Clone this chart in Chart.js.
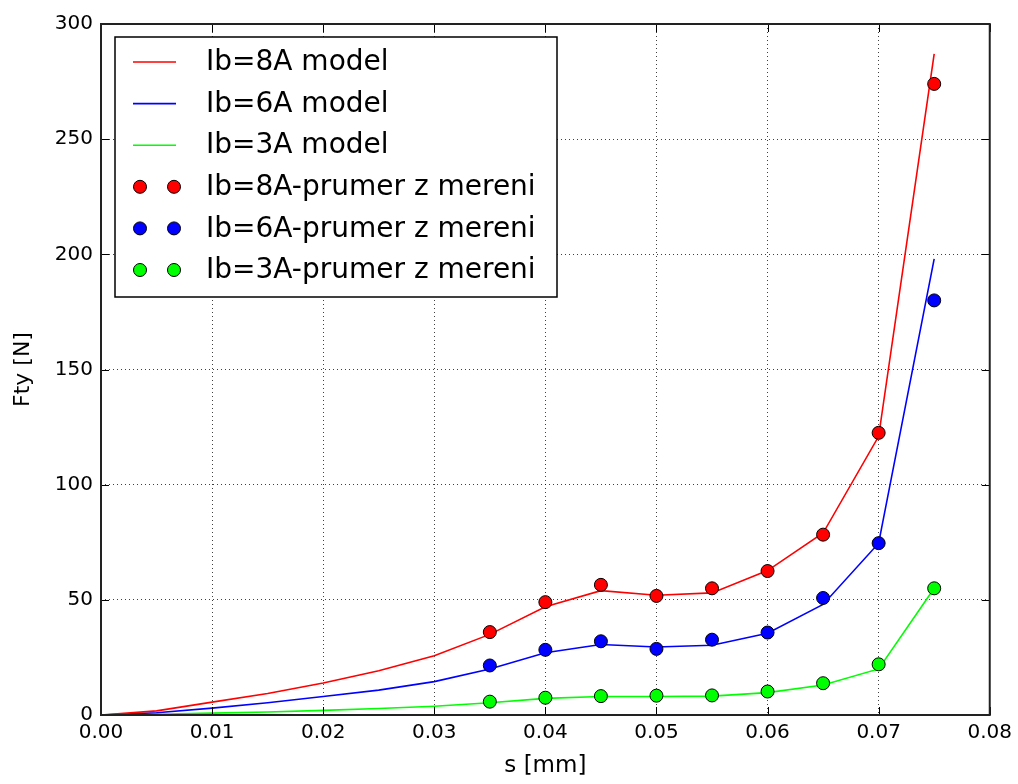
<!DOCTYPE html>
<html>
<head>
<meta charset="utf-8">
<script src="https://cdn.jsdelivr.net/npm/chart.js@4"></script>
<style>
  html, body { margin: 0; padding: 0; background: #fff; }
  #wrap { width: 1018px; height: 784px; }
</style>
</head>
<body>
<div id="wrap"><canvas id="chart" width="1018" height="784"></canvas></div>
<script>
// hodnoty
const sModel = [0, 0.005, 0.01, 0.015, 0.02, 0.025, 0.03, 0.035, 0.04, 0.045, 0.05, 0.055, 0.06, 0.065, 0.07, 0.075];
const model8A = [0, 1.8, 5.6, 9.3, 13.9, 19.2, 25.7, 35, 47, 54, 52, 53, 62.7, 79, 121, 287];
const model6A = [0, 1, 3, 5.3, 8, 10.8, 14.5, 20, 27, 30.6, 29.5, 30.3, 35.5, 48, 74.6, 198];
const model3A = [0, 0.3, 0.8, 1.3, 2, 2.8, 3.8, 5.3, 7.2, 8, 8, 8.2, 9.7, 13, 20, 55];

const sMereni = [0.035, 0.04, 0.045, 0.05, 0.055, 0.06, 0.065, 0.07, 0.075];
const mereni8A = [36, 49, 56.5, 51.7, 55, 62.5, 78.3, 122.5, 274];
const mereni6A = [21.5, 28.3, 32, 28.7, 32.7, 35.8, 50.8, 74.6, 180];
const mereni3A = [5.8, 7.5, 8.2, 8.4, 8.5, 10.2, 13.8, 22, 55];

const xTicks = [0, 0.01, 0.02, 0.03, 0.04, 0.05, 0.06, 0.07, 0.08];
const yTicks = [0, 50, 100, 150, 200, 250, 300];

const FONT = "'DejaVu Sans', sans-serif";

function toPoints(xs, ys) {
    return xs.map((x, i) => ({ x: x, y: ys[i] }));
}

function lineSet(label, ys, color) {
    return {
        label: label, data: toPoints(sModel, ys), showLine: true,
        borderColor: color, backgroundColor: color, borderWidth: 1.6,
        pointRadius: 0, tension: 0, order: 2, kind: 'line'
    };
}

function dotSet(label, ys, color) {
    return {
        label: label, data: toPoints(sMereni, ys), showLine: false,
        backgroundColor: color, borderColor: '#000', borderWidth: 1,
        pointRadius: 6.5, order: 1, kind: 'dot'
    };
}

const datasets = [
    lineSet('Ib=8A model', model8A, '#ff0000'),
    lineSet('Ib=6A model', model6A, '#0000ff'),
    lineSet('Ib=3A model', model3A, '#00ff00'),
    dotSet('Ib=8A-prumer z mereni', mereni8A, '#ff0000'),
    dotSet('Ib=6A-prumer z mereni', mereni6A, '#0000ff'),
    dotSet('Ib=3A-prumer z mereni', mereni3A, '#00ff00')
];

// ramecek, vnitrni ticky a legenda ve stylu matplotlib
const framePlugin = {
    id: 'frame',
    afterDraw(chart) {
        const ctx = chart.ctx;
        const a = chart.chartArea;
        const xs = chart.scales.x, ys = chart.scales.y;
        ctx.save();
        ctx.strokeStyle = '#000';
        ctx.lineWidth = 1;
        ctx.beginPath();
        xTicks.forEach(v => {
            const px = Math.round(xs.getPixelForValue(v)) + 0.5;
            ctx.moveTo(px, a.bottom); ctx.lineTo(px, a.bottom - 8);
            ctx.moveTo(px, a.top); ctx.lineTo(px, a.top + 8);
        });
        yTicks.forEach(v => {
            const py = Math.round(ys.getPixelForValue(v)) + 0.5;
            ctx.moveTo(a.left, py); ctx.lineTo(a.left + 8, py);
            ctx.moveTo(a.right, py); ctx.lineTo(a.right - 8, py);
        });
        ctx.stroke();
        ctx.lineWidth = 2;
        ctx.strokeStyle = '#222';
        ctx.strokeRect(a.left, a.top, a.right - a.left, a.bottom - a.top);

        // legenda
        const lx = 115, ly = 37, lw = 442, lh = 260;
        ctx.fillStyle = '#fff';
        ctx.fillRect(lx, ly, lw, lh);
        ctx.lineWidth = 1.5;
        ctx.strokeStyle = '#000';
        ctx.strokeRect(lx, ly, lw, lh);
        ctx.font = '28px ' + FONT;
        ctx.textBaseline = 'middle';
        chart.data.datasets.forEach((ds, i) => {
            const y = 62 + i * 41.6;
            if (ds.kind === 'line') {
                ctx.strokeStyle = ds.borderColor;
                ctx.lineWidth = 1.6;
                ctx.beginPath();
                ctx.moveTo(133, y); ctx.lineTo(176, y);
                ctx.stroke();
            } else {
                [140, 174].forEach(cx => {
                    ctx.beginPath();
                    ctx.arc(cx, y, 6.5, 0, Math.PI * 2);
                    ctx.fillStyle = ds.backgroundColor;
                    ctx.fill();
                    ctx.lineWidth = 1;
                    ctx.strokeStyle = '#000';
                    ctx.stroke();
                });
            }
            ctx.fillStyle = '#000';
            ctx.fillText(ds.label, 206, y + 1);
        });
        ctx.restore();
    }
};

new Chart(document.getElementById('chart'), {
    type: 'scatter',
    data: { datasets: datasets },
    plugins: [framePlugin],
    options: {
        responsive: false,
        animation: false,
        layout: { padding: { top: 24, right: 28, left: 0, bottom: 0 } },
        plugins: {
            legend: { display: false },
            tooltip: { enabled: false }
        },
        scales: {
            x: {
                type: 'linear', min: 0, max: 0.08,
                afterBuildTicks: s => { s.ticks = xTicks.map(v => ({ value: v })); },
                afterFit: s => { s.height = 69; },
                ticks: {
                    color: '#000', font: { family: FONT, size: 20 }, padding: 6,
                    maxRotation: 0, callback: v => v.toFixed(2)
                },
                grid: { color: 'rgba(0,0,0,0.75)', lineWidth: 1, drawTicks: false },
                border: { display: false, dash: [1, 3] },
                title: { display: true, text: 's [mm]', color: '#000', font: { family: FONT, size: 23 }, padding: { top: 12 } }
            },
            y: {
                type: 'linear', min: 0, max: 300,
                afterBuildTicks: s => { s.ticks = yTicks.map(v => ({ value: v })); },
                afterFit: s => { s.width = 101; },
                ticks: { color: '#000', font: { family: FONT, size: 20 }, padding: 8 },
                grid: { color: 'rgba(0,0,0,0.75)', lineWidth: 1, drawTicks: false },
                border: { display: false, dash: [1, 3] },
                title: { display: true, text: 'Fty [N]', color: '#000', font: { family: FONT, size: 22 }, padding: { top: 10, bottom: 0 } }
            }
        }
    }
});
</script>
</body>
</html>
